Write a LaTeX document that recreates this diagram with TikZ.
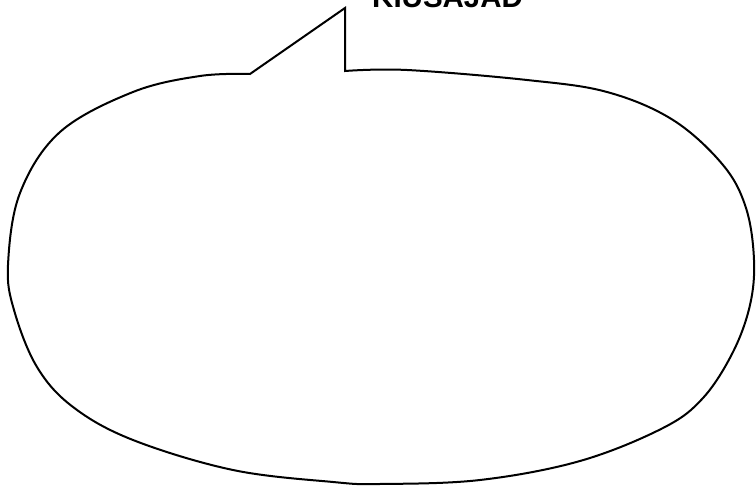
\documentclass[tikz,border=0pt]{standalone}
\usepackage{fontspec}
\setmainfont{Liberation Sans}
\usepackage{tikz}
\usetikzlibrary{positioning}

\begin{document}
\begin{tikzpicture}[
  x=1pt, y=-1pt,
  bubble/.style={draw=black, line width=2pt, line join=miter, fill=white},
  caption/.style={font=\fontsize{29.5}{30}\selectfont\bfseries, inner sep=0pt, anchor=base west},
]
\useasboundingbox (0,0) rectangle (756,486);
% speech bubble with its tail
\draw[bubble] (250,74) -- (345,8) -- (345,71)
  -- plot[smooth, tension=0.6] coordinates {(345,71) (407,70) (527,80) (607,92) (673,120)
     (723,165) (746,208) (754,260) (750,305) (733,352) (703,398) (663,428) (580,461)
     (480,480) (380,484) (333,482) (233,470) (133,440) (73,407) (37,367) (14,310) (8,265)
     (20,193) (60,132) (133,92) (200,76) (250,74)} -- cycle;
\node[caption] (title) at (372,8) {KIUSAJAD};
\end{tikzpicture}
\end{document}
